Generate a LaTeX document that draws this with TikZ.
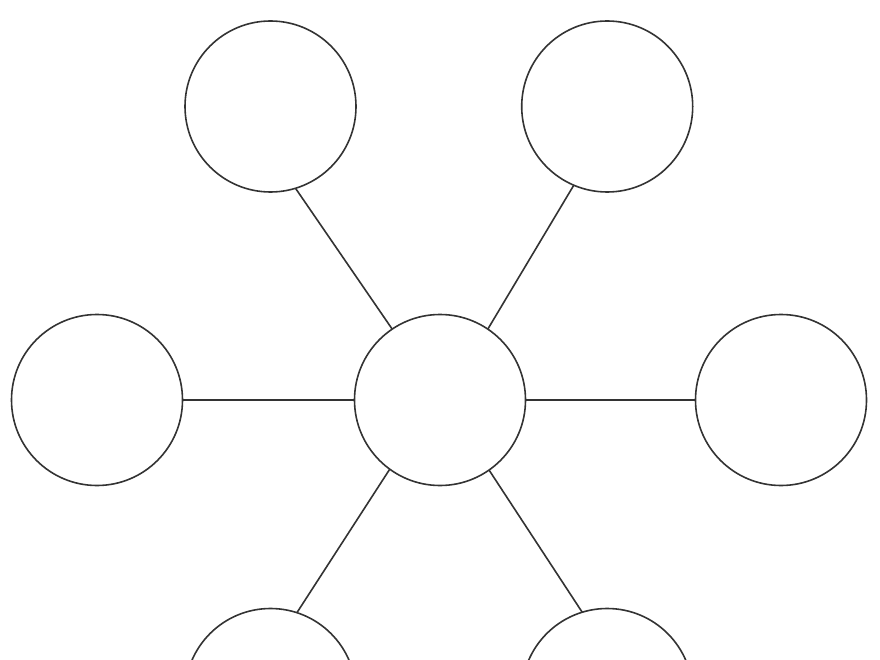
\documentclass[tikz,border=0pt]{standalone}
\begin{document}
\begin{tikzpicture}[x=1pt,y=-1pt,
  ball/.style={circle,draw=ink,line width=1.6pt,minimum size=171pt,inner sep=0pt,outer sep=0pt,fill=white},
  link/.style={draw=ink,line width=1.6pt}]
\definecolor{ink}{HTML}{333333}
\clip (0,0) rectangle (880,660);
\fill[white] (0,0) rectangle (880,660);
\node[ball] (c) at (440,400) {};
\node[ball] (tl) at (270.5,106.5) {};
\node[ball] (tr) at (607.2,106.5) {};
\node[ball] (l) at (97,400) {};
\node[ball] (r) at (781,400) {};
\node[ball] (bl) at (270.5,694) {};
\node[ball] (br) at (607.2,694) {};
\draw[link] (c.124.7) -- (tl.287.5);
\draw[link] (c.56.6) -- (tr.247.7);
\draw[link] (c.west) -- (l.east);
\draw[link] (c.east) -- (r.west);
\draw[link] (c.234.8) -- (bl.72.8);
\draw[link] (c.305.5) -- (br.107.4);
\end{tikzpicture}
\end{document}
